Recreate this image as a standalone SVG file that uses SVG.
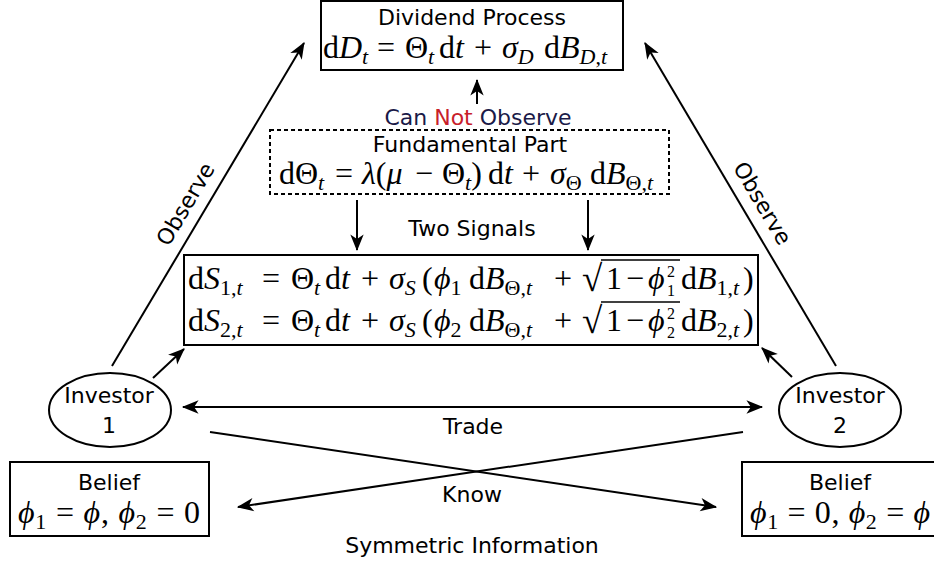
<svg xmlns="http://www.w3.org/2000/svg" width="934" height="563" viewBox="0 0 934 563">
<style>
  .lbl { font-family: "DejaVu Sans", sans-serif; font-size: 22px; fill: #000; }
  .m { font-family: "Liberation Serif", "DejaVu Serif", serif; font-size: 32px; fill: #000; }
  .i { font-style: italic; }
  .s { font-size: 22px; }
  .ss { font-size: 16px; }
  .box { fill: #fff; stroke: #000; stroke-width: 2; }
  .dash { fill: #fff; stroke: #000; stroke-width: 2; stroke-dasharray: 4 3; }
  .edge { fill: none; stroke: #000; stroke-width: 2; }
</style>
<defs>
  <marker id="ah" markerUnits="userSpaceOnUse" markerWidth="20" markerHeight="20" refX="0" refY="0" viewBox="-16 -8 18 16" orient="auto-start-reverse">
    <path d="M1,0 L-14,-6 L-10,0 L-14,6 Z" fill="#000"/>
  </marker>
</defs>
<rect width="934" height="563" fill="#fff"/>

<g id="connectors">
  <path class="edge" d="M112,366 L304,43" marker-end="url(#ah)"/>
  <path class="edge" d="M836,366 L645,43" marker-end="url(#ah)"/>
  <path class="edge" d="M153,378 L184,349" marker-end="url(#ah)"/>
  <path class="edge" d="M792,377 L762,348" marker-end="url(#ah)"/>
  <path class="edge" d="M477,104 L477,80" marker-end="url(#ah)"/>
  <path class="edge" d="M357,200 L357,250" marker-end="url(#ah)"/>
  <path class="edge" d="M588,200 L588,250" marker-end="url(#ah)"/>
  <path class="edge" d="M183,407 L762,407" marker-start="url(#ah)" marker-end="url(#ah)"/>
  <path class="edge" d="M210,432 L716,507" marker-end="url(#ah)"/>
  <path class="edge" d="M743,432 L238,507" marker-end="url(#ah)"/>
  <text class="lbl" text-anchor="middle" transform="translate(192,208) rotate(-59.3)">Observe</text>
  <text class="lbl" text-anchor="middle" transform="translate(756,207) rotate(59.4)">Observe</text>
  <text class="lbl" x="478" y="125" text-anchor="middle"><tspan fill="#1a1a48">Can </tspan><tspan fill="#c8202a">Not</tspan><tspan fill="#1a1a48"> Observe</tspan></text>
  <text class="lbl" x="472" y="236" text-anchor="middle">Two Signals</text>
  <text class="lbl" x="473" y="434" text-anchor="middle">Trade</text>
  <text class="lbl" x="472" y="502" text-anchor="middle">Know</text>
  <text class="lbl" x="472" y="553" text-anchor="middle">Symmetric Information</text>
</g>

<g id="dividend">
  <rect class="box" x="321" y="1" width="302" height="69"/>
  <text class="lbl" x="472" y="25" text-anchor="middle">Dividend Process</text>
  <text class="m" y="58"><tspan x="323">d</tspan><tspan class="i">D</tspan><tspan class="i s" dy="6">t</tspan><tspan x="377" dy="-6">=</tspan><tspan x="405">Θ</tspan><tspan class="i s" dy="6">t</tspan><tspan x="439" dy="-6">d</tspan><tspan class="i">t</tspan><tspan x="474">+</tspan><tspan x="502" class="i">σ</tspan><tspan class="i s" dy="6">D</tspan><tspan x="544" dy="-6">d</tspan><tspan class="i">B</tspan><tspan class="i s" dy="6">D</tspan><tspan class="s">,</tspan><tspan class="i s">t</tspan></text>
</g>

<g id="fundamental">
  <rect class="dash" x="270" y="130" width="399" height="64"/>
  <text class="lbl" x="470" y="152" text-anchor="middle">Fundamental Part</text>
  <text class="m" y="184"><tspan x="279">d</tspan><tspan>Θ</tspan><tspan class="i s" dy="6">t</tspan><tspan x="335" dy="-6">=</tspan><tspan x="362" class="i">λ</tspan><tspan>(</tspan><tspan class="i">μ</tspan><tspan x="415">−</tspan><tspan x="442">Θ</tspan><tspan class="i s" dy="6">t</tspan><tspan dy="-6">)</tspan><tspan x="488">d</tspan><tspan class="i">t</tspan><tspan x="522">+</tspan><tspan x="550" class="i">σ</tspan><tspan class="s" dy="6">Θ</tspan><tspan x="590" dy="-6">d</tspan><tspan class="i">B</tspan><tspan class="s" dy="6">Θ,</tspan><tspan class="i s">t</tspan></text>
</g>

<g id="signals">
  <rect class="box" x="184" y="255" width="574" height="90"/>
  <text class="m" y="289"><tspan x="188">d</tspan><tspan class="i">S</tspan><tspan class="s" dy="6">1,</tspan><tspan class="i s">t</tspan><tspan x="262" dy="-6">=</tspan><tspan x="291">Θ</tspan><tspan class="i s" dy="6">t</tspan><tspan x="325" dy="-6">d</tspan><tspan class="i">t</tspan><tspan x="361">+</tspan><tspan x="389" class="i">σ</tspan><tspan class="i s" dy="6">S</tspan><tspan x="422" dy="-6">(</tspan><tspan x="434" class="i">ϕ</tspan><tspan class="s" dy="6">1</tspan><tspan x="469" dy="-6">d</tspan><tspan class="i">B</tspan><tspan class="s" dy="6">Θ,</tspan><tspan class="i s">t</tspan><tspan x="554" dy="-6">+</tspan><tspan x="606">1</tspan><tspan x="626">−</tspan><tspan x="648" class="i">ϕ</tspan><tspan class="ss" x="667" dy="-12">2</tspan><tspan class="ss" x="667" dy="19">1</tspan><tspan x="681" dy="-7">d</tspan><tspan class="i">B</tspan><tspan class="s" dy="6">1,</tspan><tspan class="i s">t</tspan><tspan x="743" dy="-6">)</tspan></text>
  <text class="m" x="582" y="291" style="font-size:37px">√</text>
  <line x1="601" y1="260" x2="680" y2="260" stroke="#000" stroke-width="1.4"/>
  <text class="m" y="331"><tspan x="188">d</tspan><tspan class="i">S</tspan><tspan class="s" dy="6">2,</tspan><tspan class="i s">t</tspan><tspan x="262" dy="-6">=</tspan><tspan x="291">Θ</tspan><tspan class="i s" dy="6">t</tspan><tspan x="325" dy="-6">d</tspan><tspan class="i">t</tspan><tspan x="361">+</tspan><tspan x="389" class="i">σ</tspan><tspan class="i s" dy="6">S</tspan><tspan x="422" dy="-6">(</tspan><tspan x="434" class="i">ϕ</tspan><tspan class="s" dy="6">2</tspan><tspan x="469" dy="-6">d</tspan><tspan class="i">B</tspan><tspan class="s" dy="6">Θ,</tspan><tspan class="i s">t</tspan><tspan x="554" dy="-6">+</tspan><tspan x="606">1</tspan><tspan x="626">−</tspan><tspan x="648" class="i">ϕ</tspan><tspan class="ss" x="667" dy="-12">2</tspan><tspan class="ss" x="667" dy="19">2</tspan><tspan x="681" dy="-7">d</tspan><tspan class="i">B</tspan><tspan class="s" dy="6">2,</tspan><tspan class="i s">t</tspan><tspan x="743" dy="-6">)</tspan></text>
  <text class="m" x="582" y="333" style="font-size:37px">√</text>
  <line x1="601" y1="302" x2="680" y2="302" stroke="#000" stroke-width="1.4"/>
</g>

<g id="investor1">
  <ellipse cx="110" cy="410" rx="61" ry="37" fill="#fff" stroke="#000" stroke-width="2"/>
  <text class="lbl" x="109" y="403" text-anchor="middle">Investor</text>
  <text class="lbl" x="109" y="433" text-anchor="middle">1</text>
</g>

<g id="investor2">
  <ellipse cx="840" cy="410" rx="61" ry="37" fill="#fff" stroke="#000" stroke-width="2"/>
  <text class="lbl" x="840" y="403" text-anchor="middle">Investor</text>
  <text class="lbl" x="840" y="433" text-anchor="middle">2</text>
</g>

<g id="belief1">
  <rect class="box" x="10" y="462" width="199" height="74"/>
  <text class="lbl" x="109" y="490" text-anchor="middle">Belief</text>
  <text class="m" x="109" y="523" text-anchor="middle" textLength="182" lengthAdjust="spacing"><tspan class="i">ϕ</tspan><tspan class="s" dy="6">1</tspan><tspan dy="-6"> = </tspan><tspan class="i">ϕ</tspan><tspan>, </tspan><tspan class="i">ϕ</tspan><tspan class="s" dy="6">2</tspan><tspan dy="-6"> = 0</tspan></text>
</g>

<g id="belief2">
  <rect class="box" x="742" y="462" width="200" height="74"/>
  <text class="lbl" x="840" y="490" text-anchor="middle">Belief</text>
  <text class="m" x="840" y="523" text-anchor="middle" textLength="180" lengthAdjust="spacing"><tspan class="i">ϕ</tspan><tspan class="s" dy="6">1</tspan><tspan dy="-6"> = 0, </tspan><tspan class="i">ϕ</tspan><tspan class="s" dy="6">2</tspan><tspan dy="-6"> = </tspan><tspan class="i">ϕ</tspan></text>
</g>
</svg>
